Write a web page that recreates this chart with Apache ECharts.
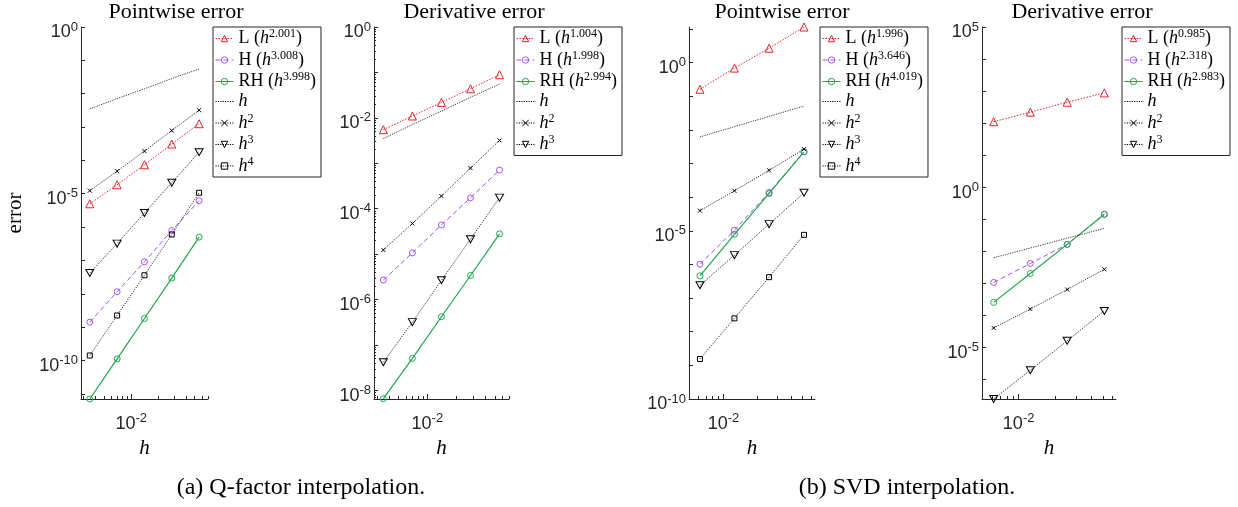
<!DOCTYPE html>
<html>
<head>
<meta charset="utf-8">
<script src="https://cdn.jsdelivr.net/npm/echarts@6/dist/echarts.min.js"></script>
<style>
  html, body { margin: 0; padding: 0; background: #fff; }
  #main { width: 1238px; height: 507px; }
</style>
</head>
<body>
<div id="main"></div>
<script>
// step sizes h (x values)
const hQ = [0.0035, 0.007, 0.014, 0.028, 0.056];
const hS = [0.0062, 0.0125, 0.0253, 0.0515];

// (a) Q-factor, pointwise error
const qpL  = [5.0e-6, 1.86e-5, 7.4e-5, 3.1e-4, 1.26e-3];
const qpH  = [1.41e-9, 1.15e-8, 9.1e-8, 7.9e-7, 6.2e-6];
const qpRH = [7.0e-12, 1.12e-10, 1.82e-9, 2.95e-8, 5.0e-7];
// (a) Q-factor, derivative error
const qdL  = [5.5e-3, 1.10e-2, 2.19e-2, 4.37e-2, 8.9e-2];
const qdH  = [2.7e-6, 1.07e-5, 4.4e-5, 1.74e-4, 7.1e-4];
const qdRH = [6.6e-9, 5.1e-8, 4.2e-7, 3.4e-6, 2.8e-5];
// reference slopes on hQ
const qRef1 = [0.0035, 0.0071, 0.0141, 0.0284, 0.0555];
const qRef2 = [1.24e-5, 4.73e-5, 1.9e-4, 7.85e-4, 3.2e-3];
const qRef3 = [4.2e-8, 3.2e-7, 2.66e-6, 2.14e-5, 1.76e-4];
const qRef4 = [1.41e-10, 2.24e-9, 3.6e-8, 6.0e-7, 1.07e-5];

// (b) SVD, pointwise error
const spL  = [0.162, 0.69, 2.69, 11.5];
const spH  = [1.02e-6, 1.05e-5, 1.38e-4, 2.24e-3];
const spRH = [4.6e-7, 7.9e-6, 1.29e-4, 2.24e-3];
// (b) SVD, derivative error
const sdL  = [110, 219, 447, 871];
const sdH  = [1.05e-3, 4.1e-3, 1.62e-2, 0.141];
const sdRH = [2.5e-4, 2.0e-3, 1.62e-2, 0.141];
// reference slopes on hS
const sRef1 = [0.0062, 0.0125, 0.0253, 0.0513];
const sRef2 = [3.98e-5, 1.55e-4, 6.3e-4, 2.69e-3];
const sRef3 = [2.4e-7, 1.9e-6, 1.58e-5, 1.35e-4];
const sRef4 = [1.55e-9, 2.5e-8, 4.2e-7, 7.6e-6];

// tick labels
const xLabels = [0.01];
const yLabelsQP = [1, 1e-5, 1e-10];
const yLabelsQD = [1, 1e-2, 1e-4, 1e-6, 1e-8];
const yLabelsSP = [1, 1e-5, 1e-10];
const yLabelsSD = [1e5, 1, 1e-5];

// legend texts
const legendText = {
  L_a: '{n|L (}{i|h}{s|2.001}{n|)}', H_a: '{n|H (}{i|h}{s|3.008}{n|)}', RH_a: '{n|RH (}{i|h}{s|3.998}{n|)}',
  L_b: '{n|L (}{i|h}{s|1.004}{n|)}', H_b: '{n|H (}{i|h}{s|1.998}{n|)}', RH_b: '{n|RH (}{i|h}{s|2.994}{n|)}',
  L_c: '{n|L (}{i|h}{s|1.996}{n|)}', H_c: '{n|H (}{i|h}{s|3.646}{n|)}', RH_c: '{n|RH (}{i|h}{s|4.019}{n|)}',
  L_d: '{n|L (}{i|h}{s|0.985}{n|)}', H_d: '{n|H (}{i|h}{s|2.318}{n|)}', RH_d: '{n|RH (}{i|h}{s|2.983}{n|)}'
};
['a', 'b', 'c', 'd'].forEach(k => {
  legendText['h1_' + k] = '{i|h}';
  legendText['h2_' + k] = '{i|h}{s|2}';
  legendText['h3_' + k] = '{i|h}{s|3}';
  legendText['h4_' + k] = '{i|h}{s|4}';
});

const AX = '#262626';
const SERIF = 'Liberation Serif';
const SANS = 'Liberation Sans';

function decades(lo, hi) {
  const out = [];
  for (let e = lo; e <= hi; e++) out.push(Math.pow(10, e));
  return out;
}
function minors(lo, hi) {
  const out = [];
  for (let e = lo; e <= hi; e++) for (let m = 2; m <= 9; m++) out.push(m * Math.pow(10, e));
  return out;
}

const tickRich = {
  b: { fontFamily: SANS, fontSize: 18, color: AX, lineHeight: 21, verticalAlign: 'bottom' },
  s: { fontFamily: SANS, fontSize: 13, color: AX, lineHeight: 21, verticalAlign: 'top' }
};
function powLabel(v) {
  const e = Math.round(Math.log10(v));
  return '{b|10}{s|' + e + '}';
}

function xPair(grid, min, max) {
  return [{
    type: 'log', gridIndex: grid, position: 'bottom', min: min, max: max,
    axisLine: { show: true, lineStyle: { color: AX, width: 1 } },
    axisTick: { show: true, inside: true, length: 5, customValues: [0.01], lineStyle: { color: AX } },
    axisLabel: { customValues: xLabels, formatter: powLabel, rich: tickRich, margin: 13 },
    splitLine: { show: false }, minorTick: { show: false },
    name: 'h', nameLocation: 'middle', nameGap: 36,
    nameTextStyle: { fontFamily: SERIF, fontStyle: 'italic', fontSize: 21, color: '#000' }
  }, {
    type: 'log', gridIndex: grid, position: 'bottom', min: min, max: max,
    axisLine: { show: false },
    axisTick: { show: true, inside: true, length: 3, customValues: minors(-3, -2), lineStyle: { color: AX } },
    axisLabel: { show: false }, splitLine: { show: false }
  }];
}
function yMain(grid, min, max, ticks, labels, name) {
  const a = {
    type: 'log', gridIndex: grid, position: 'left', min: min, max: max,
    axisLine: { show: true, lineStyle: { color: AX, width: 1 } },
    axisTick: { show: true, inside: true, length: 4, customValues: ticks, lineStyle: { color: AX } },
    axisLabel: { customValues: labels, formatter: powLabel, rich: tickRich, margin: 3, padding: [8, 0, 0, 0] },
    splitLine: { show: false }, minorTick: { show: false }
  };
  if (name) {
    a.name = name; a.nameLocation = 'middle'; a.nameGap = 55;
    a.nameTextStyle = { fontFamily: SERIF, fontSize: 21, color: '#000' };
  }
  return a;
}

const xAxes = [].concat(
  xPair(0, 0.0028, 0.0702),
  xPair(1, 0.0028, 0.0702),
  xPair(2, 0.00496, 0.0644),
  xPair(3, 0.00496, 0.0644)
);
const yAxes = [
  yMain(0, 7e-12, 1, decades(-11, 0), yLabelsQP, 'error'),
  yMain(1, 6.5e-9, 1, decades(-8, 0), yLabelsQD),
  {
    type: 'log', gridIndex: 1, position: 'left', min: 6.5e-9, max: 1,
    axisLine: { show: false },
    axisTick: { show: true, inside: true, length: 2, customValues: minors(-9, -1), lineStyle: { color: AX } },
    axisLabel: { show: false }, splitLine: { show: false }
  },
  yMain(2, 1e-10, 11.5, decades(-10, 1), yLabelsSP),
  yMain(3, 2.4e-7, 1e5, decades(-6, 5), yLabelsSD)
];
const yIdx = [0, 1, 3, 4];

const RED = '#e4242c', PURPLE = '#a552f5', GREEN = '#1fa64a', BLK = '#000';
const XMARK = 'path://M0,0L10,10M10,0L0,10';
const DOWNTRI = 'path://M0,0L10,0L5,8.66Z';
const styles = {
  L:  { color: RED, width: 1, type: [1.5, 1.5], symbol: 'triangle', size: 8 },
  H:  { color: PURPLE, width: 1, type: [5, 3], symbol: 'circle', size: 6 },
  RH: { color: GREEN, width: 1.2, type: 'solid', symbol: 'circle', size: 6 },
  h1: { color: BLK, width: 0.8, type: [1.2, 1.2], symbol: 'circle', size: 0, hidden: true },
  h2: { color: BLK, width: 0.8, type: [1.2, 1.2], symbol: XMARK, size: 4 },
  h3: { color: BLK, width: 0.8, type: [1.2, 1.2], symbol: DOWNTRI, size: [8, 7] },
  h4: { color: BLK, width: 0.8, type: [1.2, 1.2], symbol: 'rect', size: 5 }
};

const series = [];
function addLine(kind, tag, grid, hArr, vals) {
  const st = styles[kind];
  series.push({
    name: kind + '_' + tag, type: 'line',
    xAxisIndex: grid * 2, yAxisIndex: yIdx[grid],
    data: hArr.map((h, i) => [h, vals[i]]),
    symbol: st.symbol, symbolSize: st.size, showSymbol: !st.hidden,
    lineStyle: { color: st.color, width: st.width, type: st.type },
    itemStyle: { color: 'rgba(0,0,0,0)', borderColor: st.hidden ? 'rgba(0,0,0,0)' : st.color, borderWidth: 1 },
    emphasis: { disabled: true }, silent: true, animation: false
  });
}

addLine('L', 'a', 0, hQ, qpL); addLine('H', 'a', 0, hQ, qpH); addLine('RH', 'a', 0, hQ, qpRH);
addLine('h1', 'a', 0, hQ, qRef1); addLine('h2', 'a', 0, hQ, qRef2); addLine('h3', 'a', 0, hQ, qRef3); addLine('h4', 'a', 0, hQ, qRef4);

addLine('L', 'b', 1, hQ, qdL); addLine('H', 'b', 1, hQ, qdH); addLine('RH', 'b', 1, hQ, qdRH);
addLine('h1', 'b', 1, hQ, qRef1); addLine('h2', 'b', 1, hQ, qRef2); addLine('h3', 'b', 1, hQ, qRef3);

addLine('L', 'c', 2, hS, spL); addLine('H', 'c', 2, hS, spH); addLine('RH', 'c', 2, hS, spRH);
addLine('h1', 'c', 2, hS, sRef1); addLine('h2', 'c', 2, hS, sRef2); addLine('h3', 'c', 2, hS, sRef3); addLine('h4', 'c', 2, hS, sRef4);

addLine('L', 'd', 3, hS, sdL); addLine('H', 'd', 3, hS, sdH); addLine('RH', 'd', 3, hS, sdRH);
addLine('h1', 'd', 3, hS, sRef1); addLine('h2', 'd', 3, hS, sRef2); addLine('h3', 'd', 3, hS, sRef3);

const legendRich = {
  n: { fontFamily: SERIF, fontSize: 18, color: '#000', lineHeight: 21, verticalAlign: 'middle' },
  i: { fontFamily: SERIF, fontSize: 18, fontStyle: 'italic', color: '#000', lineHeight: 21, verticalAlign: 'middle' },
  s: { fontFamily: SERIF, fontSize: 12, color: '#000', lineHeight: 11, verticalAlign: 'top' }
};
function legend(left, tag, withH4) {
  const names = ['L', 'H', 'RH', 'h1', 'h2', 'h3'].concat(withH4 ? ['h4'] : []).map(k => k + '_' + tag);
  return {
    orient: 'vertical', left: left, top: 27,
    itemWidth: 18, itemHeight: 8, itemGap: 2,
    padding: [1, 5, 2, 2],
    borderColor: AX, borderWidth: 1, backgroundColor: '#fff',
    selectedMode: false,
    data: names,
    formatter: n => legendText[n],
    textStyle: { rich: legendRich },
    itemStyle: { borderWidth: 1 },
    lineStyle: { width: 1 }
  };
}

function txt(x, y, s, size, style) {
  return {
    type: 'text', x: x, y: y, silent: true,
    style: { text: s, fontFamily: SERIF, fontSize: size, fontStyle: style || 'normal', fill: '#000',
      align: 'center', verticalAlign: 'middle', textAlign: 'center', textVerticalAlign: 'middle' }
  };
}

const chart = echarts.init(document.getElementById('main'), null, { renderer: 'canvas' });
chart.setOption({
  animation: false,
  backgroundColor: '#fff',
  grid: [
    { left: 81, top: 27, width: 127, height: 372 },
    { left: 374, top: 27, width: 135, height: 372 },
    { left: 689, top: 27, width: 126, height: 372 },
    { left: 982, top: 27, width: 134, height: 372 }
  ],
  xAxis: xAxes,
  yAxis: yAxes,
  legend: [legend(213, 'a', true), legend(514, 'b', false), legend(820, 'c', true), legend(1122, 'd', false)],
  graphic: [
    txt(176, 12, 'Pointwise error', 22),
    txt(474, 12, 'Derivative error', 22),
    txt(782, 12, 'Pointwise error', 22),
    txt(1082, 12, 'Derivative error', 22),
    txt(301, 488, '(a) Q-factor interpolation.', 24),
    txt(907, 488, '(b) SVD interpolation.', 24)
  ],
  series: series
});
</script>
</body>
</html>
